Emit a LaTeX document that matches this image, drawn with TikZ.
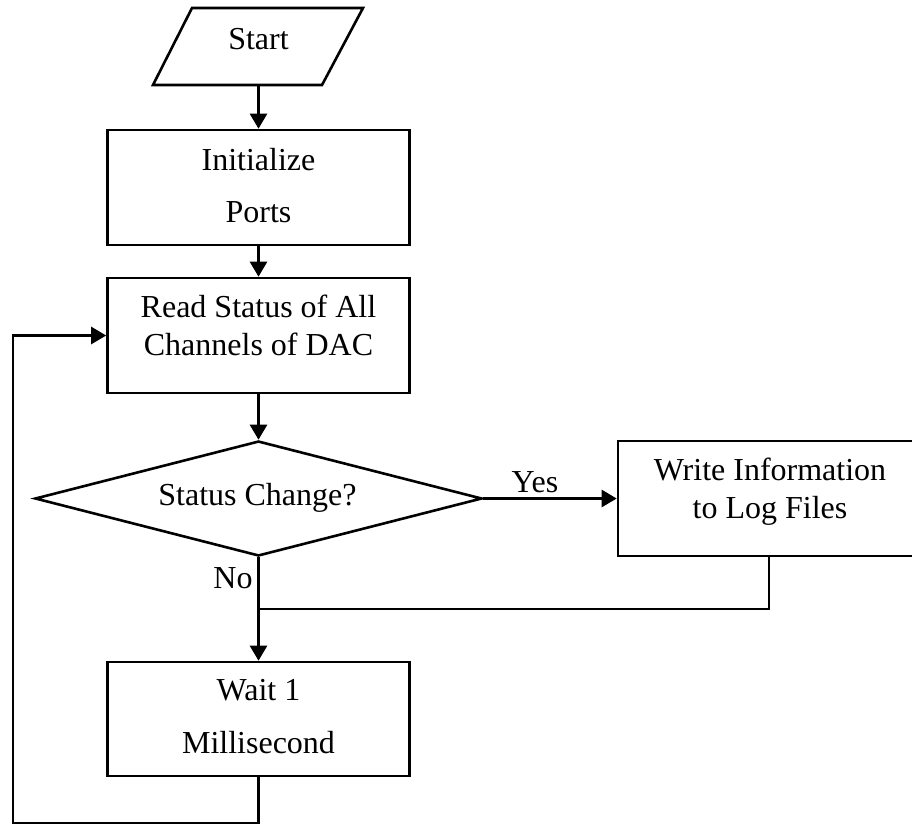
\documentclass[tikz,border=0pt]{standalone}
\usepackage{fontspec}
\setmainfont{Liberation Serif}
\usetikzlibrary{arrows.meta,shapes.geometric}

\tikzset{
  flow/.style={line width=2.6pt},
  arr/.style={flow,-{Triangle[length=15pt,width=17pt]}},
  stepbox/.style={draw,flow,rectangle,minimum width=302pt,minimum height=115pt,inner sep=0pt},
  decision/.style={draw,flow,diamond,aspect=3.87,minimum width=447pt,minimum height=115pt,inner sep=0pt},
  txt/.style={anchor=base,inner sep=0pt,font=\fontsize{32}{38}\selectfont}
}

\begin{document}
\begin{tikzpicture}[x=1pt,y=-1pt]
  \useasboundingbox (0,0) rectangle (912,825);
  \clip (0,0) rectangle (912,825);

  % start (parallelogram)
  \draw[flow,line join=miter] (192,8) -- (363,8) -- (322,85) -- (153,85) -- cycle;
  \coordinate (startb) at (258.5,85);
  \node[txt] (start) at (258.5,49) {Start};

  % process boxes and decision
  \node[stepbox] (init)  at (258.5,187.5) {};
  \node[stepbox] (read)  at (258.5,335.5) {};
  \node[decision] (dec)  at (258.5,498.5) {};
  \node[stepbox] (write) at (769,498.5) {};
  \node[stepbox,minimum height=114pt] (wait) at (258.5,719) {};

  % box texts
  \node[txt] (t1) at (258.5,170) {Initialize};
  \node[txt] (t2) at (258.5,222) {Ports};
  \node[txt] (t3) at (258.5,317) {Read Status of All};
  \node[txt] (t4) at (258.5,355) {Channels of DAC};
  \node[txt] (t5) at (257.5,505) {Status Change?};
  \node[txt] (t6) at (770,480) {Write Information};
  \node[txt] (t7) at (770,518) {to Log Files};
  \node[txt] (t8) at (258.5,700) {Wait 1};
  \node[txt] (t9) at (258.5,753) {Millisecond};

  % branch labels
  \node[txt] (yes) at (535,492) {Yes};
  \node[txt] (no)  at (233,588) {No};

  % connectors
  \coordinate (jn) at (258.5,609);
  \coordinate (lb) at (13,823);
  \draw[arr] (startb) -- (init.north);
  \draw[arr] (init.south) -- (read.north);
  \draw[arr] (read.south) -- (dec.north);
  \draw[arr] (dec.east) -- (write.west);
  \draw[arr] (dec.south) -- (wait.north);
  \draw[flow] (write.south) |- (jn);
  \draw[arr] (wait.south) |- (lb) |- (read.west);
\end{tikzpicture}
\end{document}
